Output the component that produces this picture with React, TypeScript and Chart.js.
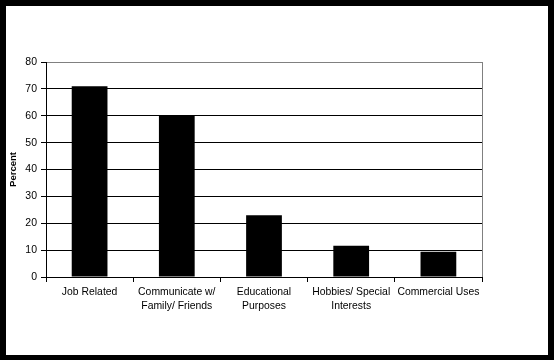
import React, { useEffect, useRef } from "react";
import { Chart, registerables } from "chart.js";

Chart.register(...registerables);

const categories: (string | string[])[] = [
  "Job Related",
  ["Communicate w/", "Family/ Friends"],
  ["Educational", "Purposes"],
  ["Hobbies/ Special", "Interests"],
  "Commercial Uses",
];
const percentValues = [71, 60, 23, 11.6, 9.4];
const yMin = 0;
const yMax = 80;
const yStep = 10;
const yTitle = "Percent";

const FONT = "Arial, 'Liberation Sans', sans-serif";

const frameLines = {
  id: "frameLines",
  afterDatasetsDraw(chart: any) {
    const { ctx, chartArea } = chart;
    ctx.save();
    ctx.strokeStyle = "#808080";
    ctx.lineWidth = 1;
    ctx.beginPath();
    const x = Math.round(chartArea.right) + 0.5;
    ctx.moveTo(x, chartArea.top);
    ctx.lineTo(x, chartArea.bottom);
    ctx.stroke();
    ctx.restore();
  },
};

export default function App() {
  const ref = useRef<HTMLCanvasElement | null>(null);
  useEffect(() => {
    if (!ref.current) return;
    const chart = new Chart(ref.current, {
      type: "bar",
      data: {
        labels: categories,
        datasets: [
          {
            data: percentValues,
            backgroundColor: "#000000",
            borderWidth: 0,
            categoryPercentage: 1,
            barPercentage: 0.41,
          },
        ],
      },
      options: {
        animation: false,
        responsive: false,
        maintainAspectRatio: false,
        layout: { padding: { left: 0, right: 66, top: 56, bottom: 0 } },
        plugins: { legend: { display: false }, tooltip: { enabled: false } },
        scales: {
          x: {
            grid: {
              display: true,
              drawOnChartArea: false,
              drawTicks: true,
              tickLength: 5,
              tickColor: "#000000",
              color: "#000000",
            },
            border: { display: true, color: "#000000", width: 1 },
            ticks: {
              color: "#000000",
              font: { family: FONT, size: 10.4, lineHeight: 1.33 },
              maxRotation: 0,
              minRotation: 0,
              autoSkip: false,
              padding: 3,
            },
            afterFit: (scale: any) => {
              scale.height = 78;
            },
          },
          y: {
            min: yMin,
            max: yMax,
            ticks: {
              stepSize: yStep,
              color: "#000000",
              font: { family: FONT, size: 10.5 },
              padding: 4,
            },
            grid: {
              color: (c: any) => (c.tick && c.tick.value === yMax ? "#808080" : "#000000"),
              tickColor: "#000000",
              tickLength: 5,
              lineWidth: 1,
            },
            border: { display: true, color: "#000000", width: 1 },
            title: {
              display: true,
              text: yTitle,
              color: "#000000",
              font: { family: FONT, size: 9.5, weight: "bold" },
              padding: { top: 2, bottom: 0 },
            },
            afterFit: (scale: any) => {
              scale.width = 40;
            },
          },
        },
      },
      plugins: [frameLines],
    });
    return () => chart.destroy();
  }, []);

  return (
    <div
      style={{
        position: "fixed",
        left: 0,
        top: 0,
        width: 554,
        height: 360,
        boxSizing: "border-box",
        borderStyle: "solid",
        borderColor: "#000000",
        borderWidth: "6px 6px 5px 6px",
        background: "#ffffff",
      }}
    >
      <canvas ref={ref} width={542} height={349} style={{ display: "block" }} />
    </div>
  );
}
